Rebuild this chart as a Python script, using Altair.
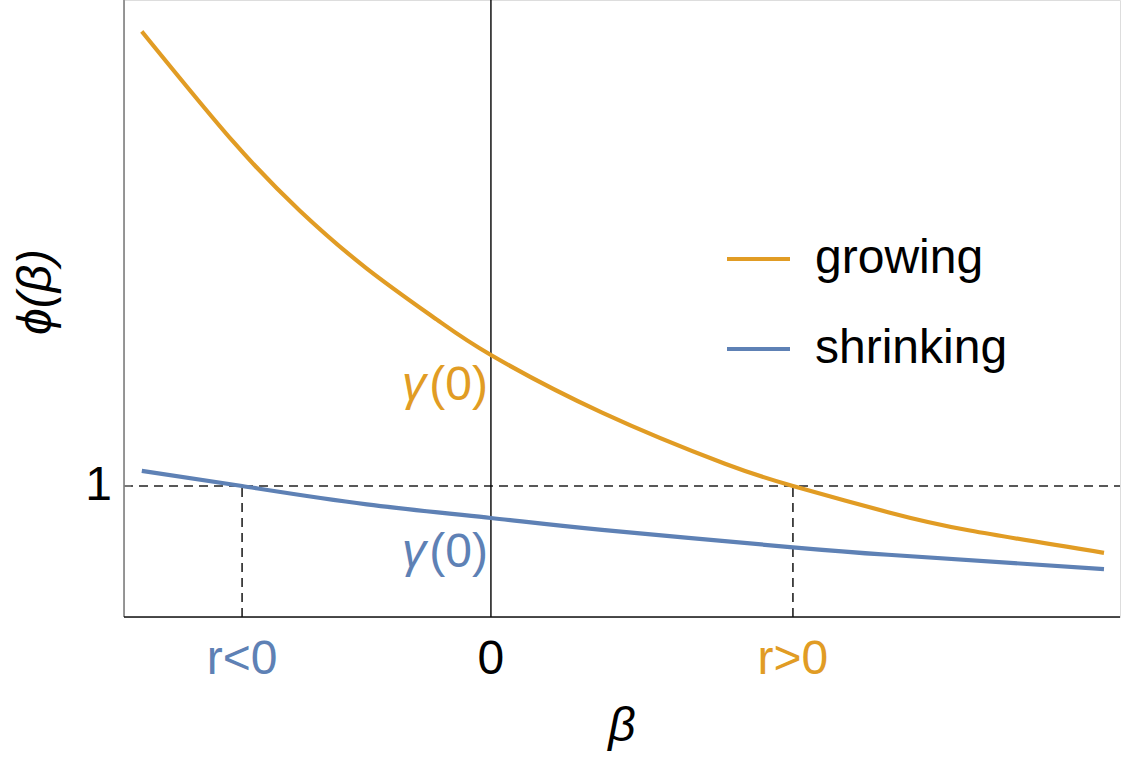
import altair as alt
import pandas as pd

# readings from the reference (beta in units of r>0, phi in units where the dashed level = 1)
beta_growing = [-1.156, -0.854, -0.632, -0.411, -0.179, 0.0, 0.368, 0.775, 1.0, 1.315, 1.586, 2.03]
phi_growing = [4.47, 3.63, 3.10, 2.66, 2.27, 2.0, 1.56, 1.17, 1.0, 0.80, 0.66, 0.49]
beta_shrinking = [-1.156, -0.824, -0.411, 0.0, 0.368, 1.0, 1.315, 2.03]
phi_shrinking = [1.115, 1.0, 0.86, 0.756, 0.665, 0.532, 0.475, 0.366]
r_neg = -0.824
r_pos = 1.0
level_one = 1.0
x_domain = [-1.215, 2.083]
y_domain = [0.0, 4.71]
series_names = ["growing", "shrinking"]
tick_labels = ["r<0", "0", "r>0"]

ORANGE = "#E19C24"
BLUE = "#5E81B5"
FONT = "Liberation Sans"
FS = 48
W, H = 996, 617

xs = alt.Scale(domain=x_domain, nice=False, zero=False)
ys = alt.Scale(domain=y_domain, nice=False, zero=False)

df_g = pd.DataFrame({"beta": beta_growing, "phi": phi_growing})
df_s = pd.DataFrame({"beta": beta_shrinking, "phi": phi_shrinking})
one = pd.DataFrame({"a": [0]})

X = lambda f: alt.X(f, type="quantitative", scale=xs, axis=None)
Y = lambda f: alt.Y(f, type="quantitative", scale=ys, axis=None)

base1 = alt.Chart(one)

left_axis = base1.mark_rule(color="#7f7f7f", strokeWidth=1.6).encode(
    x=alt.value(0), y=alt.value(0), y2=alt.value(H))
bottom_axis = base1.mark_rule(color="#111111", strokeWidth=1.6).encode(
    x=alt.value(0), x2=alt.value(W), y=alt.value(H))

zero_df = pd.DataFrame({"b": [0.0]})
zero_line = alt.Chart(zero_df).mark_rule(color="black", strokeWidth=1.4).encode(
    x=X("b"), y=alt.value(0), y2=alt.value(H))

hdash_df = pd.DataFrame({"p": [level_one]})
hdash = alt.Chart(hdash_df).mark_rule(color="#222222", strokeWidth=1.6, strokeDash=[9, 6]).encode(
    y=Y("p"), x=alt.value(0), x2=alt.value(W))
tick1 = alt.Chart(hdash_df).mark_rule(color="#7f7f7f", strokeWidth=1.6).encode(
    y=Y("p"), x=alt.value(0), x2=alt.value(7))

vdash_df = pd.DataFrame({"b": [r_neg, r_pos], "p0": [0.0, 0.0], "p1": [level_one, level_one]})
vdash = alt.Chart(vdash_df).mark_rule(color="#222222", strokeWidth=1.6, strokeDash=[9, 6]).encode(
    x=X("b"), y=Y("p0"), y2=alt.Y2("p1"))

line_g = alt.Chart(df_g).mark_line(color=ORANGE, strokeWidth=4.2, interpolate="natural").encode(
    x=X("beta"), y=Y("phi"))
line_s = alt.Chart(df_s).mark_line(color=BLUE, strokeWidth=4.2, interpolate="natural").encode(
    x=X("beta"), y=Y("phi"))

# tick labels under the axis
tl_df = pd.DataFrame({"b": [r_neg, 0.0, r_pos], "t": tick_labels, "c": [BLUE, "black", ORANGE]})
tick_text = alt.Chart(tl_df).mark_text(font=FONT, fontSize=FS, baseline="middle", align="center").encode(
    x=X("b"), y=alt.value(43 + H), text="t:N", color=alt.Color("c:N", scale=None))

one_label = alt.Chart(hdash_df).mark_text(font=FONT, fontSize=FS, baseline="middle", align="right").encode(
    y=Y("p"), x=alt.value(-12), text=alt.value("1"))

# gamma(0) annotations: italic gamma + upright (0)
GX = 488 - 124
PW = 62


def gamma_label(color, ypix):
    paren = base1.mark_text(font=FONT, fontSize=FS, baseline="middle", align="right", color=color).encode(
        x=alt.value(GX), y=alt.value(ypix), text=alt.value("(0)"))
    g = base1.mark_text(font=FONT, fontSize=FS, fontStyle="italic", baseline="middle", align="right",
                        color=color).encode(
        x=alt.value(GX - PW), y=alt.value(ypix), text=alt.value("γ"))
    return paren + g


gam_g = gamma_label(ORANGE, 386)
gam_s = gamma_label(BLUE, 553)

# axis titles
ytitle = base1.mark_text(font=FONT, fontSize=FS, fontStyle="italic", angle=270,
                         baseline="middle", align="center").encode(
    x=alt.value(37 - 124), y=alt.value(292), text=alt.value("ϕ(β)"))
xtitle = base1.mark_text(font=FONT, fontSize=FS, fontStyle="italic",
                         baseline="middle", align="center").encode(
    x=alt.value(622 - 124), y=alt.value(727), text=alt.value("β"))

# legend
leg_g_line = base1.mark_rule(color=ORANGE, strokeWidth=4.2).encode(
    x=alt.value(727 - 124), x2=alt.value(790 - 124), y=alt.value(259))
leg_s_line = base1.mark_rule(color=BLUE, strokeWidth=4.2).encode(
    x=alt.value(727 - 124), x2=alt.value(790 - 124), y=alt.value(349))
leg_g_txt = base1.mark_text(font=FONT, fontSize=FS, baseline="middle", align="left").encode(
    x=alt.value(815 - 124), y=alt.value(259), text=alt.value(series_names[0]))
leg_s_txt = base1.mark_text(font=FONT, fontSize=FS, baseline="middle", align="left").encode(
    x=alt.value(815 - 124), y=alt.value(349), text=alt.value(series_names[1]))

chart = alt.layer(
    hdash, vdash, tick1, zero_line, left_axis, bottom_axis, line_s, line_g,
    tick_text, one_label, gam_g, gam_s, ytitle, xtitle,
    leg_g_line, leg_s_line, leg_g_txt, leg_s_txt,
).properties(
    width=W, height=H,
    padding={"left": 124, "top": 0, "right": 2, "bottom": 147},
    autosize=alt.AutoSizeParams(type="none"),
).configure_view(stroke=None).configure(background="white")

chart.save("out.html", embed_options={"renderer": "svg", "actions": False})
